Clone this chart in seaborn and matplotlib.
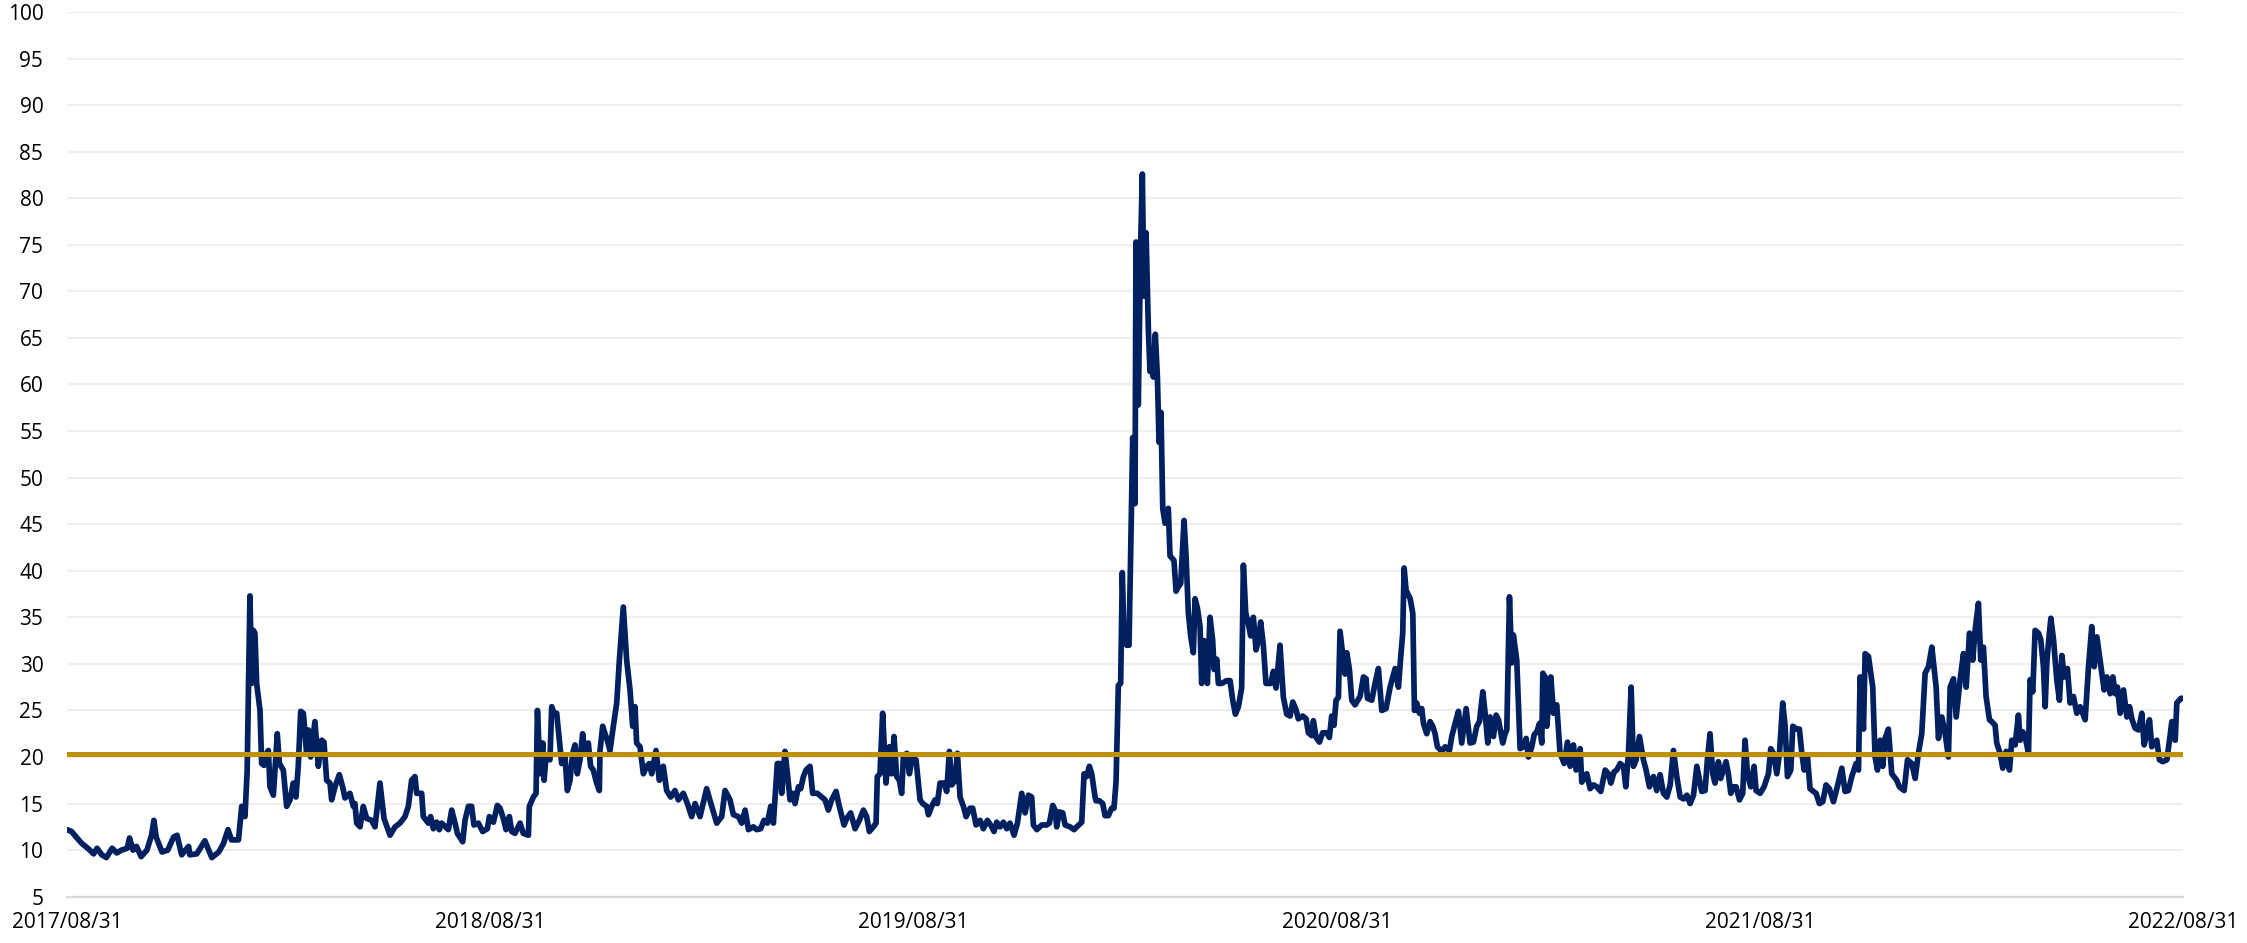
import pandas as pd
import matplotlib.pyplot as plt
import matplotlib.dates as mdates
import seaborn as sns

start = pd.Timestamp('2017-08-31')
end = pd.Timestamp('2022-08-31')

# (days after 2017/08/31, VIX close)
sep17_aug18 = [
    (0, 12.2), (4, 12.0), (8, 11.4), (13, 10.7), (18, 10.2), (23, 9.6), (26, 10.2), (30, 9.5),
    (34, 9.2), (39, 10.2), (43, 9.7), (47, 10.0), (52, 10.2), (54, 11.3), (57, 10.0), (60, 10.4),
    (64, 9.3), (69, 10.0), (73, 11.6), (75, 13.2), (77, 11.4), (82, 9.8), (87, 10.0), (92, 11.4),
    (95, 11.6), (99, 9.5), (105, 10.4), (106, 9.5), (112, 9.6), (119, 11.0), (125, 9.2), (131, 9.8),
    (135, 10.7), (139, 12.2), (142, 11.1), (148, 11.1), (150.8, 14.7), (153.6, 13.6), (155.5, 18.5),
    (157.9, 37.3), (159.4, 27.9), (160.8, 33.6), (162.2, 33.3), (163.7, 27.9), (166.6, 25.0),
    (168, 19.3), (170, 19.1), (172.3, 20.4), (173.8, 20.7), (175.2, 16.8), (178.1, 15.9),
    (179.5, 18.6), (181.5, 22.5), (183.3, 19.3), (186.7, 18.6), (189.6, 14.7), (192.5, 15.4),
    (195.3, 17.2), (197.6, 15.7), (199.6, 19.0), (201.7, 24.9), (204, 24.7), (206.8, 20.4),
    (208.3, 22.9), (210.3, 20.0), (214, 23.8), (216.9, 19.0), (219.8, 21.8), (221.8, 21.6),
    (224.1, 17.5), (227, 17.2), (228.4, 15.4), (231.3, 16.8), (235, 18.1), (237.9, 16.8),
    (239.9, 15.6), (244.2, 16.1), (247.1, 14.7), (248.5, 15.0), (250, 12.9), (252.9, 12.5),
    (255.7, 14.7), (258.6, 13.4), (263, 13.2), (265.8, 12.5), (270.1, 17.2), (273.6, 13.4),
    (278.8, 11.6), (283.1, 12.5), (287.4, 12.9), (291.7, 13.6), (294.6, 14.7), (297.4, 17.5),
    (300.3, 17.9), (301.8, 16.1), (306.1, 16.1), (307.5, 13.6), (311.8, 12.9), (313.8, 13.6),
    (316.2, 12.3), (319, 13.0), (321.3, 12.2), (323.3, 12.9), (329.1, 12.2), (332, 14.3),
    (334.9, 12.9), (336.9, 11.8), (341.5, 10.9), (343.5, 13.2), (346.4, 14.7), (349.2, 14.7),
    (351.2, 12.7), (355, 12.9), (358.7, 12.0), (362.8, 12.3), (364.5, 13.6),
]

sep18_aug19 = [
    (368, 13.0), (371.4, 14.8), (373.7, 14.5), (376.6, 13.4), (378.9, 12.2), (381.8, 13.6),
    (383.8, 12.0), (386.6, 11.8), (391, 12.9), (393.8, 11.8), (398.2, 11.6), (399, 14.7),
    (402.5, 15.7), (404.8, 16.1), (406, 25.0), (408.3, 18.2), (410.6, 21.5), (411.7, 17.5),
    (413.4, 20.0), (416.8, 19.7), (418.3, 25.4), (420.3, 24.7), (422.6, 24.7), (424.9, 21.8),
    (426.9, 19.3), (429.8, 20.0), (431.8, 16.4), (434.1, 17.5), (436.4, 20.4), (438.4, 21.3),
    (440.4, 18.2), (442.7, 19.7), (445, 22.5), (447, 20.4), (449.9, 21.5), (451.9, 19.0),
    (454.2, 18.6), (457.1, 17.2), (459.4, 16.4), (460, 20.7), (462.3, 23.3), (464.3, 22.5),
    (466.3, 21.8), (468.6, 20.7), (471.5, 23.3), (474.4, 25.8), (476.7, 30.4), (480.1, 36.1),
    (483, 30.4), (485.9, 27.2), (488.2, 23.3), (490.2, 25.4), (491.6, 21.5), (494.5, 21.1),
    (497.4, 18.2), (500.3, 19.0), (502.6, 19.3), (504.6, 18.2), (508.3, 20.7), (511.2, 17.5),
    (514.6, 19.0), (517.5, 16.4), (521, 15.7), (524.7, 16.4), (527.6, 15.4), (531.9, 16.1),
    (535.4, 15.0), (539.1, 13.6), (542, 15.0), (546.3, 13.6), (552, 16.6), (556.4, 14.7),
    (560.7, 12.9), (565, 13.6), (567.9, 16.4), (572.2, 15.4), (575.1, 13.8), (579.4, 13.6),
    (582.3, 12.9), (585.2, 14.3), (588.1, 12.2), (592.3, 12.5), (595.2, 12.2), (598.6, 12.3),
    (601.5, 13.2), (604.4, 12.9), (607.3, 14.7), (609.6, 12.9), (613, 19.3), (615.3, 19.3),
    (616.8, 16.1), (619.6, 20.6), (621.7, 18.2), (624, 15.4), (626.8, 16.1), (628.3, 15.0),
    (631.2, 16.8), (633.2, 16.6), (635.5, 17.9), (637.8, 18.6), (641.2, 19.0), (643.5, 16.1),
    (647.5, 16.1), (651.3, 15.7), (654.2, 15.4), (657, 14.3), (659.9, 15.4), (663.7, 16.3),
    (666.5, 14.7), (670.6, 12.7), (672.9, 13.4), (676.3, 14.0), (680.1, 12.3), (683.8, 13.2),
    (687.3, 14.3), (690.1, 13.6), (692.4, 12.0), (695.9, 12.5), (698.2, 12.9), (699.3, 17.9),
    (701.6, 18.2), (703.9, 24.7), (706.8, 17.2), (709.7, 21.1), (711.7, 18.2), (713.7, 22.2),
    (716, 17.9), (718.3, 17.5), (720.3, 16.1), (721.8, 20.0), (724.7, 20.4), (727, 18.2),
    (729, 19.7),
]

sep19_aug20 = [
    (732.7, 19.7), (736.2, 15.4), (738.5, 15.0), (741.9, 14.7), (743.4, 13.8), (746.2, 14.7),
    (749.1, 15.4), (751.1, 15.0), (753.4, 17.2), (756.9, 17.2), (759.2, 16.3), (761.5, 20.6),
    (763.5, 17.0), (766.4, 17.5), (768.4, 20.4), (770.7, 15.7), (773.6, 14.7), (775.9, 13.6),
    (779.3, 14.5), (781.6, 14.5), (784.5, 12.7), (788, 13.2), (790.8, 12.3), (794.3, 13.2),
    (798, 12.5), (800, 12.0), (802.3, 13.0), (805.2, 12.5), (808.1, 13.0), (811, 12.3),
    (813.8, 12.9), (817.3, 11.6), (820.2, 12.9), (823.9, 16.1), (826.8, 14.0), (829.7, 15.9),
    (832.5, 15.7), (834, 12.7), (836.9, 12.2), (841.2, 12.7), (845.5, 12.7), (847.8, 12.9),
    (850.7, 14.8), (852.7, 14.3), (854.1, 12.5), (856.4, 14.1), (859.3, 14.0), (861.3, 12.7),
    (865.6, 12.5), (869.1, 12.2), (871.4, 12.5), (875.7, 13.0), (877.7, 18.2), (880, 17.9),
    (882.3, 19.0), (884.3, 18.2), (887.2, 15.7), (888, 15.3), (890.9, 15.3), (893.8, 15.0),
    (895.8, 13.7), (898.7, 13.7), (901.5, 14.5), (903.5, 14.5), (905.3, 17.3), (907.3, 27.7),
    (909.3, 27.9), (910.7, 39.8), (912.2, 33.0), (914.5, 32.0), (916.5, 32.0), (917.9, 41.6),
    (919.7, 54.3), (921.7, 47.2), (922.5, 75.3), (924.5, 57.8), (926.6, 75.3), (928, 82.6),
    (929.4, 69.5), (931.2, 76.3), (933.2, 65.9), (934.6, 61.4), (936.6, 62.4), (937.5, 60.8),
    (939.2, 65.4), (941, 60.8), (942.4, 53.8), (944.1, 57.0), (945.6, 46.7), (947.6, 45.1),
    (949, 46.2), (950.4, 46.7), (951.9, 41.6), (955.3, 41.1), (957.1, 37.8), (959.1, 38.3),
    (961.1, 38.6), (964, 45.4), (965.7, 41.6), (967.7, 35.5), (969.7, 33.0), (972, 31.2),
    (973.5, 37.0), (975.5, 36.0), (977.8, 34.0), (979.2, 27.9), (981.2, 32.5), (984.1, 27.9),
    (986.4, 35.0), (988.7, 32.5), (989.9, 29.4), (992.2, 30.5), (993.6, 27.9), (996.5, 27.9),
    (1000.8, 28.2), (1003.7, 28.2), (1006, 26.1), (1008.3, 24.6), (1010.9, 25.4), (1013.7, 27.4),
    (1015.2, 40.6), (1017.2, 35.5), (1019.5, 34.3), (1021.5, 33.0), (1023.8, 35.0), (1026.1, 31.5),
    (1028.1, 32.5), (1030.1, 34.5), (1032.4, 32.0), (1034.7, 27.9), (1038.8, 27.9), (1041.1, 29.2),
    (1043.4, 27.4), (1046.8, 32.0), (1049.7, 26.4), (1052.6, 24.6), (1055.5, 24.4), (1057.8, 25.9),
    (1060.6, 25.1), (1062.6, 24.1), (1066.4, 24.4), (1069.3, 24.1), (1071.3, 22.6), (1074.2, 22.3),
    (1075.6, 23.9), (1077.9, 22.1), (1080.8, 21.6), (1083.6, 22.6), (1087.1, 22.6), (1089.4, 22.1),
    (1091.4, 24.4), (1093.4, 23.4), (1095.2, 26.1),
]

sep20_aug21 = [
    (1097.2, 26.4), (1098.6, 33.5), (1100.9, 31.0), (1102.9, 28.9), (1104.4, 31.2), (1106.7, 29.4),
    (1108.7, 26.1), (1111.5, 25.6), (1115.9, 26.5), (1118.8, 28.6), (1121.1, 28.4), (1122.2, 26.3),
    (1126, 26.1), (1128.8, 27.9), (1131.7, 29.5), (1134.6, 25.0), (1138.3, 25.2), (1141.8, 27.5),
    (1146.1, 29.5), (1149, 27.5), (1151, 30.8), (1152.7, 33.3), (1153.9, 40.3), (1155.6, 37.9),
    (1159.1, 37.0), (1161.4, 35.4), (1162.8, 25.0), (1164.8, 25.8), (1167.1, 24.7), (1169.1, 25.2),
    (1170.6, 23.6), (1173.4, 22.5), (1176.3, 23.8), (1178.6, 23.3), (1180.6, 22.5), (1182.6, 21.1),
    (1186.4, 20.6), (1189.3, 21.1), (1193, 20.7), (1195, 22.2), (1197.9, 23.6), (1200.8, 24.9),
    (1203.6, 21.5), (1207.4, 25.2), (1210.8, 21.5), (1213.7, 21.6), (1216.6, 23.3), (1218.9, 23.8),
    (1221.8, 27.0), (1223.8, 24.7), (1226.1, 21.5), (1228.1, 24.3), (1231, 22.2), (1233.3, 24.5),
    (1235.3, 24.0), (1239, 21.5), (1241, 22.5), (1242.5, 22.9), (1244.8, 37.2), (1246.8, 30.1),
    (1248.2, 33.1), (1251.1, 30.4), (1254, 20.9), (1256.9, 21.1), (1259.2, 22.0), (1261.2, 20.0),
    (1264.1, 21.1), (1266.1, 22.4), (1268.4, 22.7), (1270.7, 23.6), (1272.7, 21.5), (1273.6, 29.0),
    (1275.6, 28.6), (1277, 23.3), (1280.5, 28.6), (1282.8, 24.7), (1285.6, 25.6), (1288.5, 20.4),
    (1292, 19.3), (1294.9, 21.6), (1297.2, 19.0), (1300, 21.3), (1302.3, 18.6), (1305.8, 20.9),
    (1307.2, 17.3), (1311.5, 18.2), (1314.4, 16.6), (1317.3, 17.0), (1320.2, 16.8), (1323.6, 16.3),
    (1327.4, 18.6), (1330.2, 18.2), (1332.3, 17.2), (1335.1, 18.4), (1337.4, 18.6), (1340.3, 19.3),
    (1343.2, 19.0), (1345.2, 16.8), (1347.5, 20.4), (1349.8, 27.5), (1351.8, 19.0), (1354.1, 19.7),
    (1357, 22.2), (1360.4, 19.7), (1362.7, 18.6), (1365.6, 16.8), (1369.1, 17.9), (1371.9, 16.4),
    (1374.8, 18.1), (1377.7, 16.1), (1380.6, 15.7), (1383.5, 17.0), (1386.3, 20.7), (1389.2, 17.9),
    (1392.1, 15.7), (1395, 15.5), (1397.9, 15.9), (1400.7, 15.0), (1403.6, 15.9), (1406.5, 19.0),
    (1410.7, 16.3), (1413.6, 16.4), (1415.6, 19.7), (1417.9, 22.5), (1420.2, 18.2), (1422.2, 17.2),
    (1425.1, 19.5), (1427.1, 17.7), (1429.4, 18.6), (1431.7, 19.5), (1433.8, 18.1), (1435.8, 16.1),
    (1438.1, 16.8), (1440.4, 16.8), (1443.3, 15.4), (1446.1, 16.1), (1448.1, 21.8), (1450.2, 18.2),
    (1453, 16.8), (1455.9, 19.0), (1457.6, 16.4),
]

sep21_aug22 = [
    (1461.1, 16.1), (1464.5, 16.8), (1468.3, 18.2), (1470.3, 20.9), (1472.6, 20.4), (1475.5, 18.2),
    (1477.8, 20.4), (1480.6, 25.8), (1482.7, 23.3), (1484.7, 17.9), (1487.6, 18.6), (1489.3, 23.3),
    (1492.7, 23.0), (1495, 23.0), (1497.1, 20.4), (1499.1, 18.6), (1502, 20.0), (1504.2, 16.6),
    (1507.1, 16.3), (1509.4, 16.1), (1512.3, 15.0), (1515.2, 15.2), (1518, 17.0), (1520.9, 16.6),
    (1524.4, 15.2), (1527.3, 16.6), (1531.6, 18.8), (1534.4, 16.3), (1537.3, 16.4), (1540.2, 17.9),
    (1543.9, 19.3), (1546, 18.6), (1547.4, 28.6), (1550.3, 23.0), (1551.7, 31.1), (1554.6, 30.8),
    (1558.3, 27.5), (1560.3, 20.0), (1562.4, 18.6), (1564.7, 21.8), (1567, 19.0), (1569, 22.0),
    (1571.8, 23.0), (1574.7, 18.2), (1579, 17.5), (1581.3, 16.8), (1585.4, 16.4), (1588.3, 19.7),
    (1592, 19.3), (1594.9, 17.7), (1597.7, 20.4), (1600.6, 22.5), (1603.5, 29.0), (1606.4, 29.7),
    (1609.3, 31.8), (1613, 27.5), (1615, 22.0), (1617.9, 24.3), (1620.8, 22.5), (1623.6, 20.0),
    (1625.1, 27.5), (1628, 28.4), (1630.3, 24.3), (1633.7, 28.3), (1636.6, 31.1), (1638.9, 27.5),
    (1641.8, 33.3), (1644.6, 30.4), (1646.6, 33.6), (1649.5, 36.5), (1651.5, 30.4), (1653.8, 31.8),
    (1656.1, 26.5), (1659, 24.0), (1661, 23.8), (1663.9, 23.4), (1665.3, 21.5), (1668.2, 20.4),
    (1670.5, 18.8), (1673.4, 20.6), (1676.3, 18.6), (1678.3, 21.8), (1681.2, 21.3), (1684, 24.5),
    (1685.5, 21.8), (1687.8, 22.7), (1689.8, 22.2), (1692.7, 20.4), (1694.1, 28.3), (1696.4, 27.0),
    (1698.4, 33.6), (1701.3, 33.3), (1703.3, 32.6), (1705.6, 29.7), (1707.1, 25.4), (1708.5, 30.1),
    (1709.9, 32.2), (1712, 34.9), (1714.3, 32.6), (1717.1, 28.3), (1719.4, 26.1), (1721.5, 30.9),
    (1723.5, 28.6), (1726.3, 29.5), (1728.6, 25.8), (1731.5, 26.5), (1734.4, 24.7), (1737.3, 25.4),
    (1741.6, 24.0), (1744.5, 29.7), (1747.3, 34.0), (1749.4, 29.7), (1751.7, 32.9), (1754, 30.8),
    (1756, 29.0), (1758, 27.2), (1760.3, 28.6), (1763.2, 26.8), (1765.5, 28.6), (1767.5, 26.8),
    (1769.5, 27.5), (1771.8, 24.7), (1774.7, 27.2), (1777.6, 24.3), (1779.9, 25.4), (1781.9, 24.1),
    (1784.7, 23.1), (1787.6, 22.9), (1790.5, 24.7), (1792.5, 21.3), (1794.8, 22.5), (1797.1, 24.0),
    (1799.1, 21.1), (1803.4, 21.8), (1805.7, 19.7), (1808.6, 19.5), (1812.1, 19.7), (1814.4, 21.8),
    (1816.4, 23.8), (1819.3, 21.8), (1820.7, 25.8), (1824.2, 26.3), (1826, 26.3),
]

vix_avg = 20.35
tick_dates = ['2017-08-31', '2018-08-31', '2019-08-31', '2020-08-31', '2021-08-31', '2022-08-31']

df = pd.DataFrame(sep17_aug18 + sep18_aug19 + sep19_aug20 + sep20_aug21 + sep21_aug22,
                  columns=['day', 'vix'])
df['date'] = start + pd.to_timedelta(df['day'], unit='D')
avg = pd.DataFrame({'date': [start, end], 'vix': [vix_avg, vix_avg]})

sns.set_theme(style='white')
plt.rcParams['font.family'] = ['Open Sans', 'DejaVu Sans']

fig = plt.figure(figsize=(22.47, 9.43), dpi=100)
ax = fig.add_axes([0.0298, 0.0491, 0.9417, 0.9382])

sns.lineplot(data=df, x='date', y='vix', color='#002060', linewidth=4.1, estimator=None,
             sort=False, ax=ax, solid_joinstyle='round', solid_capstyle='round')
sns.lineplot(data=avg, x='date', y='vix', color='#BF9000', linewidth=3.6, estimator=None,
             ax=ax, solid_capstyle='round')

ax.set_xlim(start, end)
ax.set_ylim(5, 100)
ax.set_yticks(range(5, 101, 5))
ax.set_xticks(pd.to_datetime(tick_dates))
ax.xaxis.set_major_formatter(mdates.DateFormatter('%Y/%m/%d'))
ax.set_xlabel('')
ax.set_ylabel('')

ax.yaxis.grid(True, color='#EEEEEE', linewidth=1.6)
ax.xaxis.grid(False)
ax.set_axisbelow(True)
for side in ['top', 'left', 'right']:
    ax.spines[side].set_visible(False)
ax.spines['bottom'].set_color('#D9D9D9')
ax.spines['bottom'].set_linewidth(1.6)

ax.tick_params(axis='y', length=0, pad=17, labelsize=15, labelcolor='#000000')
ax.tick_params(axis='x', length=0, pad=11, labelsize=15, labelcolor='#000000')

fig.savefig('out.png', dpi=100)
